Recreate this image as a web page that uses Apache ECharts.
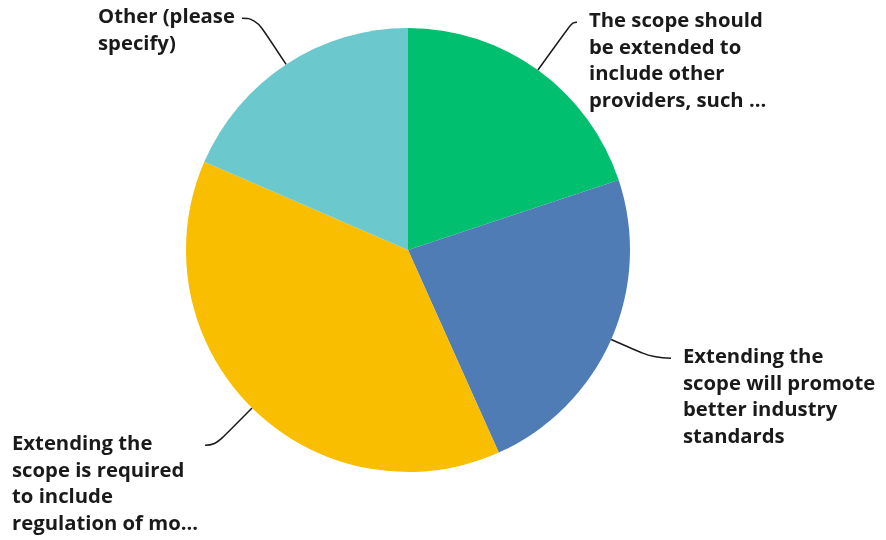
<!DOCTYPE html>
<html>
<head>
<meta charset="utf-8">
<script src="https://cdn.jsdelivr.net/npm/echarts@6/dist/echarts.min.js"></script>
<style>html,body{margin:0;padding:0;background:#fff}#c{width:886px;height:540px}</style>
</head>
<body>
<div id="c"></div>
<script>
const categories = [
  "The scope should\nbe extended to\ninclude other\nproviders, such ...",
  "Extending the\nscope will promote\nbetter industry\nstandards",
  "Extending the\nscope is required\nto include\nregulation of mo...",
  "Other (please\nspecify)"
];
const values = [19.9, 23.4, 38.2, 18.5];
const colors = ["#00bf6f", "#507cb6", "#f9be00", "#6bc8cd"];

const CENTER = [408, 250];
const LINE_H = 26.5;
const labelPos = [
  {x: 589, y: 8, side: 'right'},
  {x: 683, y: 344, side: 'right'},
  {x: 12, y: 431, side: 'left'},
  {x: 98, y: 4, side: 'left'}
];

const chart = echarts.init(document.getElementById('c'), null, {renderer: 'canvas'});
chart.setOption({
  animation: false,
  series: [{
    type: 'pie',
    center: CENTER,
    radius: 222,
    startAngle: 90,
    clockwise: true,
    data: categories.map((n, i) => ({name: n, value: values[i], itemStyle: {color: colors[i]}})),
    label: {
      show: true,
      position: 'outside',
      formatter: '{b}',
      fontFamily: 'Open Sans',
      fontWeight: 700,
      fontSize: 20.3,
      lineHeight: LINE_H,
      color: '#1a1a1a'
    },
    labelLine: {
      show: true,
      smooth: 0.5,
      lineStyle: {color: '#1a1a1a', width: 1.5}
    },
    labelLayout: function (p) {
      const pos = labelPos[p.dataIndex];
      const pts = p.labelLinePoints;
      const res = {x: pos.x, y: pos.y, align: 'left', verticalAlign: 'top'};
      if (pts && pts.length) {
        const a = pts[0];
        const ey = pos.y + LINE_H / 2 + 1;
        const ex = pos.side === 'right' ? pos.x - 12 : pos.x + p.labelRect.width + 7;
        const dx = a[0] - CENTER[0], dy = a[1] - CENTER[1];
        const len = Math.sqrt(dx * dx + dy * dy);
        const ux = dx / len, uy = dy / len;
        const t = Math.abs(uy) > 1e-3 ? (ey - a[1]) / uy : 40;
        let mx = a[0] + ux * t;
        const my = a[1] + uy * t;
        if (pos.side === 'right') mx = Math.min(mx, ex - 2); else mx = Math.max(mx, ex + 2);
        res.labelLinePoints = [[a[0], a[1]], [mx, my], [ex, ey]];
      }
      return res;
    },
    emphasis: {disabled: true}
  }]
});
</script>
</body>
</html>
